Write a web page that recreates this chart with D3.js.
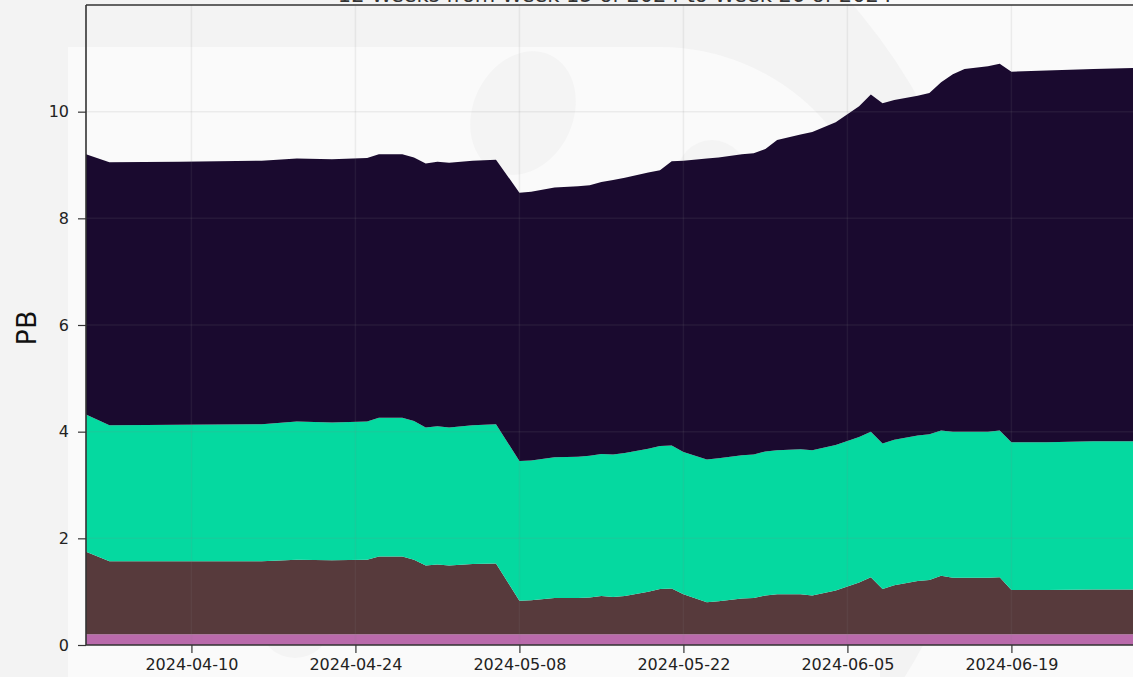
<!DOCTYPE html>
<html>
<head>
<meta charset="utf-8">
<script src="https://cdn.jsdelivr.net/npm/d3@7"></script>
<style>
  body { margin: 0; background: #f3f3f3; overflow: hidden; }
  svg { display: block; }
  text { font-family: "DejaVu Sans", sans-serif; }
</style>
</head>
<body>
<svg id="chart" width="1133" height="677"></svg>
<script>
// stacked storage, PB per day
const dates = ["2024-04-01","2024-04-03","2024-04-09","2024-04-16","2024-04-19","2024-04-22","2024-04-25","2024-04-26",
  "2024-04-28","2024-04-29","2024-04-30","2024-05-01","2024-05-02","2024-05-04","2024-05-06","2024-05-08","2024-05-09",
  "2024-05-11","2024-05-13","2024-05-14","2024-05-15","2024-05-16","2024-05-17","2024-05-19","2024-05-20","2024-05-21",
  "2024-05-22","2024-05-24","2024-05-25","2024-05-27","2024-05-28","2024-05-29","2024-05-30","2024-06-01","2024-06-02",
  "2024-06-04","2024-06-06","2024-06-07","2024-06-08","2024-06-09","2024-06-11","2024-06-12","2024-06-13","2024-06-14",
  "2024-06-15","2024-06-17","2024-06-18","2024-06-19","2024-06-22","2024-06-26","2024-06-30"];

const pinkValues = [0.2,0.2,0.2,0.2,0.2,0.2,0.2,0.2,0.2,0.2,0.2,0.2,0.2,0.2,0.2,0.2,0.2,0.2,0.2,0.2,0.2,0.2,0.2,0.2,0.2,0.2,
  0.2,0.2,0.2,0.2,0.2,0.2,0.2,0.2,0.2,0.2,0.2,0.2,0.2,0.2,0.2,0.2,0.2,0.2,0.2,0.2,0.2,0.2,0.2,0.2,0.2];
const brownValues = [1.55,1.37,1.37,1.37,1.40,1.39,1.40,1.46,1.46,1.40,1.29,1.31,1.29,1.32,1.33,0.63,0.64,0.68,0.68,0.69,
  0.72,0.70,0.72,0.80,0.85,0.86,0.75,0.60,0.62,0.67,0.68,0.73,0.75,0.75,0.73,0.82,0.97,1.07,0.85,0.92,1.00,1.02,1.10,
  1.06,1.06,1.06,1.07,0.83,0.83,0.84,0.84];
const greenValues = [2.57,2.55,2.56,2.57,2.59,2.58,2.59,2.60,2.60,2.60,2.59,2.59,2.59,2.60,2.61,2.62,2.62,2.64,2.65,2.66,
  2.66,2.67,2.68,2.68,2.68,2.68,2.67,2.68,2.68,2.69,2.69,2.70,2.70,2.72,2.72,2.73,2.73,2.73,2.73,2.73,2.73,2.73,2.72,
  2.74,2.74,2.74,2.75,2.77,2.77,2.78,2.78];
const darkValues = [4.88,4.93,4.93,4.94,4.93,4.94,4.94,4.94,4.94,4.94,4.95,4.96,4.96,4.96,4.96,5.03,5.04,5.06,5.07,5.07,
  5.10,5.15,5.16,5.18,5.17,5.33,5.46,5.64,5.64,5.64,5.65,5.67,5.82,5.90,5.97,6.05,6.20,6.32,6.38,6.37,6.37,6.40,6.53,
  6.70,6.80,6.85,6.88,6.95,6.97,6.98,7.00];

const seriesKeys = ["pink", "brown", "green", "dark"];
const seriesColors = ["#b96aab", "#573a3c", "#05d9a0", "#1a0a2f"];
const yTicks = [0, 2, 4, 6, 8, 10];
const xTicks = ["2024-04-10", "2024-04-24", "2024-05-08", "2024-05-22", "2024-06-05", "2024-06-19"];
const titleText = "12 Weeks from Week 15 of 2024 to Week 26 of 2024";

const parse = d3.utcParse("%Y-%m-%d");
const rows = dates.map((d, i) => ({
  date: parse(d),
  pink: pinkValues[i], brown: brownValues[i], green: greenValues[i], dark: darkValues[i]
}));

const svg = d3.select("#chart");

// faint logo watermark behind everything
const wm = svg.append("g");
wm.append("rect").attr("width", 1133).attr("height", 677).attr("fill", "#fafafa");
wm.append("circle").attr("cx", 423).attr("cy", 376).attr("r", 568).attr("fill", "#f3f3f3");
wm.append("path").attr("fill", "#fafafa")
  .attr("d", "M68,700 V47 H660 A220,220 0 0 1 880,267 V700 Z");
wm.append("ellipse").attr("cx", 523).attr("cy", 113).attr("rx", 50).attr("ry", 64)
  .attr("transform", "rotate(25,523,113)").attr("fill", "#f4f4f4");
wm.append("ellipse").attr("cx", 712).attr("cy", 178).attr("rx", 36).attr("ry", 38).attr("fill", "#f4f4f4");
wm.append("ellipse").attr("cx", 295).attr("cy", 622).attr("rx", 36).attr("ry", 36).attr("fill", "#f4f4f4");

const plotLeft = 86, plotTop = 5, plotBottom = 645;
const x = d3.scaleUtc()
  .domain([parse("2024-04-01"), parse("2024-06-30")])
  .range([plotLeft, plotLeft + 90 * 11.714]);
const y = d3.scaleLinear().domain([0, 12]).range([plotBottom, plotTop]);

const stacked = d3.stack().keys(seriesKeys)(rows);
const area = d3.area()
  .x(d => x(d.data.date))
  .y0(d => y(d[0]))
  .y1(d => y(d[1]));

svg.append("g").selectAll("path")
  .data(stacked)
  .join("path")
  .attr("fill", (d, i) => seriesColors[i])
  .attr("d", area);

// grid over the fills
const grid = svg.append("g").attr("stroke", "rgba(128,128,128,0.12)").attr("stroke-width", 1.5);
grid.selectAll("line.v").data(xTicks).join("line").attr("class", "v")
  .attr("x1", d => x(parse(d))).attr("x2", d => x(parse(d)))
  .attr("y1", plotTop).attr("y2", plotBottom);
grid.selectAll("line.h").data(yTicks).join("line").attr("class", "h")
  .attr("x1", plotLeft).attr("x2", 1133)
  .attr("y1", d => y(d)).attr("y2", d => y(d));

// axes
const xAxis = svg.append("g")
  .attr("transform", `translate(0,${plotBottom})`)
  .call(d3.axisBottom(x).tickValues(xTicks.map(parse)).tickFormat(d3.utcFormat("%Y-%m-%d")).tickSize(8).tickPadding(6));
const yAxis = svg.append("g")
  .attr("transform", `translate(${plotLeft},0)`)
  .call(d3.axisLeft(y).tickValues(yTicks).tickSize(8).tickPadding(9));

[xAxis, yAxis].forEach(g => {
  g.select(".domain").remove();
  g.selectAll(".tick line").attr("stroke", "#333").attr("stroke-width", 1.2);
  g.selectAll(".tick text").attr("fill", "#222").style("font-size", "16px");
});

// spines
const spine = svg.append("g").attr("stroke", "#333").attr("stroke-width", 1.6).attr("fill", "none");
spine.append("line").attr("x1", plotLeft).attr("x2", 1133).attr("y1", plotTop).attr("y2", plotTop);
spine.append("line").attr("x1", plotLeft).attr("x2", plotLeft).attr("y1", plotTop).attr("y2", plotBottom);
spine.append("line").attr("x1", plotLeft).attr("x2", 1133).attr("y1", plotBottom).attr("y2", plotBottom);

svg.append("text")
  .attr("transform", "translate(36,328) rotate(-90)")
  .attr("text-anchor", "middle")
  .attr("fill", "#111")
  .style("font-size", "27px")
  .text("PB");

// title sits mostly above the visible frame, as in the reference crop
svg.append("text")
  .attr("x", 615).attr("y", 2)
  .attr("text-anchor", "middle")
  .attr("fill", "#333")
  .style("font-size", "21px")
  .text(titleText);
</script>
</body>
</html>
